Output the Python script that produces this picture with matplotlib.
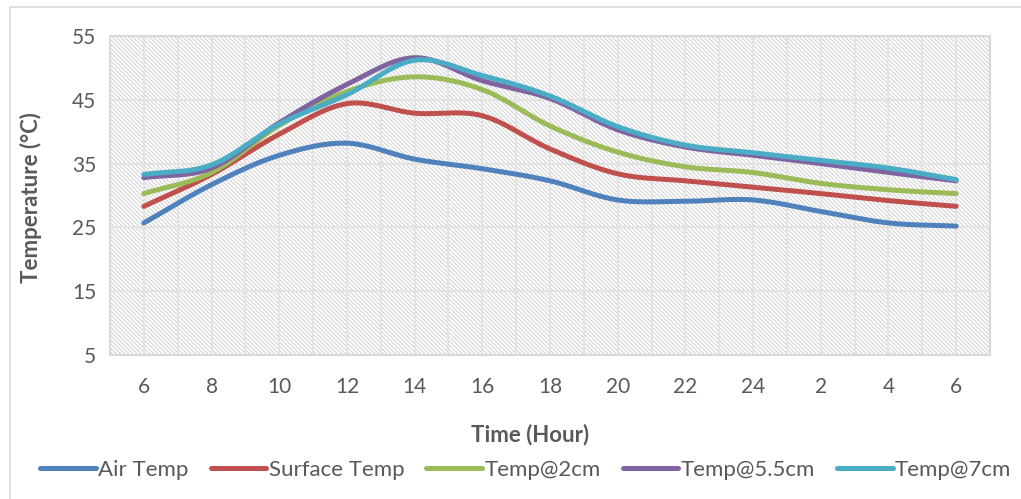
import numpy as np
import matplotlib as mpl
mpl.use('Agg')
import matplotlib.pyplot as plt
from matplotlib.patches import Rectangle

hours = ['6', '8', '10', '12', '14', '16', '18', '20', '22', '24', '2', '4', '6']

air_temp     = [25.7, 31.7, 36.3, 38.2, 35.7, 34.2, 32.3, 29.3, 29.1, 29.3, 27.5, 25.7, 25.2]
surface_temp = [28.3, 33.3, 39.6, 44.4, 42.9, 42.5, 37.3, 33.4, 32.3, 31.3, 30.3, 29.2, 28.3]
temp_2cm     = [30.3, 33.6, 41.0, 46.3, 48.6, 46.6, 40.9, 36.8, 34.5, 33.6, 31.9, 30.9, 30.3]
temp_5_5cm   = [32.8, 34.3, 41.4, 47.4, 51.6, 48.0, 45.2, 40.3, 37.6, 36.3, 35.0, 33.6, 32.3]
temp_7cm     = [33.3, 34.8, 41.2, 45.8, 51.2, 48.8, 45.6, 40.8, 37.9, 36.7, 35.5, 34.3, 32.5]

series = [
	('Air Temp',     air_temp,     '#4f81bd'),
	('Surface Temp', surface_temp, '#c0504d'),
	('Temp@2cm',     temp_2cm,     '#9bbb59'),
	('Temp@5.5cm',   temp_5_5cm,   '#8064a2'),
	('Temp@7cm',     temp_7cm,     '#4bacc6'),
]

TEXT = '#595959'
plt.rcParams['font.family'] = ['Lato', 'DejaVu Sans']
plt.rcParams['hatch.color'] = '#d0d0d0'
plt.rcParams['hatch.linewidth'] = 0.7

def smooth(x, y, n=20):
	# catmull-rom curve through the points, like excel's smoothed line
	x = np.asarray(x, float)
	y = np.asarray(y, float)
	px = np.concatenate([[2*x[0]-x[1]], x, [2*x[-1]-x[-2]]])
	py = np.concatenate([[2*y[0]-y[1]], y, [2*y[-1]-y[-2]]])
	t = np.linspace(0, 1, n, endpoint=False)
	xs, ys = [], []
	for i in range(1, len(px)-2):
		for p, out in ((px, xs), (py, ys)):
			p0, p1, p2, p3 = p[i-1], p[i], p[i+1], p[i+2]
			out.extend(0.5*((2*p1) + (-p0+p2)*t + (2*p0-5*p1+4*p2-p3)*t**2 + (-p0+3*p1-3*p2+p3)*t**3))
	xs.append(x[-1])
	ys.append(y[-1])
	return np.array(xs), np.array(ys)

fig = plt.figure(figsize=(10.21, 4.99), dpi=100)
fig.patches.append(Rectangle((10/1021, -0.1), 1.2, 1-7/499+0.1, transform=fig.transFigure,
	fill=False, edgecolor='#d9d9d9', linewidth=1.2))

ax = fig.add_axes([110/1021, 1-355/499, 880/1021, 319/499])
ax.set_xlim(-0.5, len(hours)-0.5)
ax.set_ylim(5, 55)

ax.add_patch(Rectangle((0, 0), 1, 1, transform=ax.transAxes, facecolor='white',
	hatch='\\' * 8, edgecolor='#d0d0d0', linewidth=0, zorder=0))

ax.set_xticks(range(len(hours)))
ax.set_xticklabels(hours)
ax.set_xticks(np.arange(-0.5, len(hours), 1.0), minor=True)
ax.set_yticks(range(5, 56, 10))
ax.grid(True, which='major', color='#e3e3e3', linewidth=1.5)
ax.grid(True, which='minor', axis='x', color='#e3e3e3', linewidth=1.5)
ax.set_axisbelow(True)
ax.tick_params(which='both', length=0, labelsize=15, colors=TEXT, pad=10)
ax.tick_params(axis='x', pad=16)
for s in ax.spines.values():
	s.set_color('#d9d9d9')
	s.set_linewidth(1.5)

x = np.arange(len(hours))
for name, vals, color in series:
	sx, sy = smooth(x, vals)
	ax.plot(sx, sy, color=color, linewidth=3.6, label=name, solid_capstyle='round', zorder=3)

fig.text(0.519, 1-435/499, 'Time (Hour)', ha='center', va='center', fontsize=16,
	fontweight='bold', color=TEXT)
fig.text(31/1021, 1-198/499, 'Temperature (°C)', ha='center', va='center', rotation=90,
	fontsize=16, fontweight='bold', color=TEXT)

leg = fig.legend(loc='center', bbox_to_anchor=(0.515, 1-470/499), ncol=5, frameon=False,
	fontsize=16, handlelength=2.5, handletextpad=0.1, columnspacing=1.0)
for t in leg.get_texts():
	t.set_color(TEXT)

fig.savefig('out.png', dpi=100)
